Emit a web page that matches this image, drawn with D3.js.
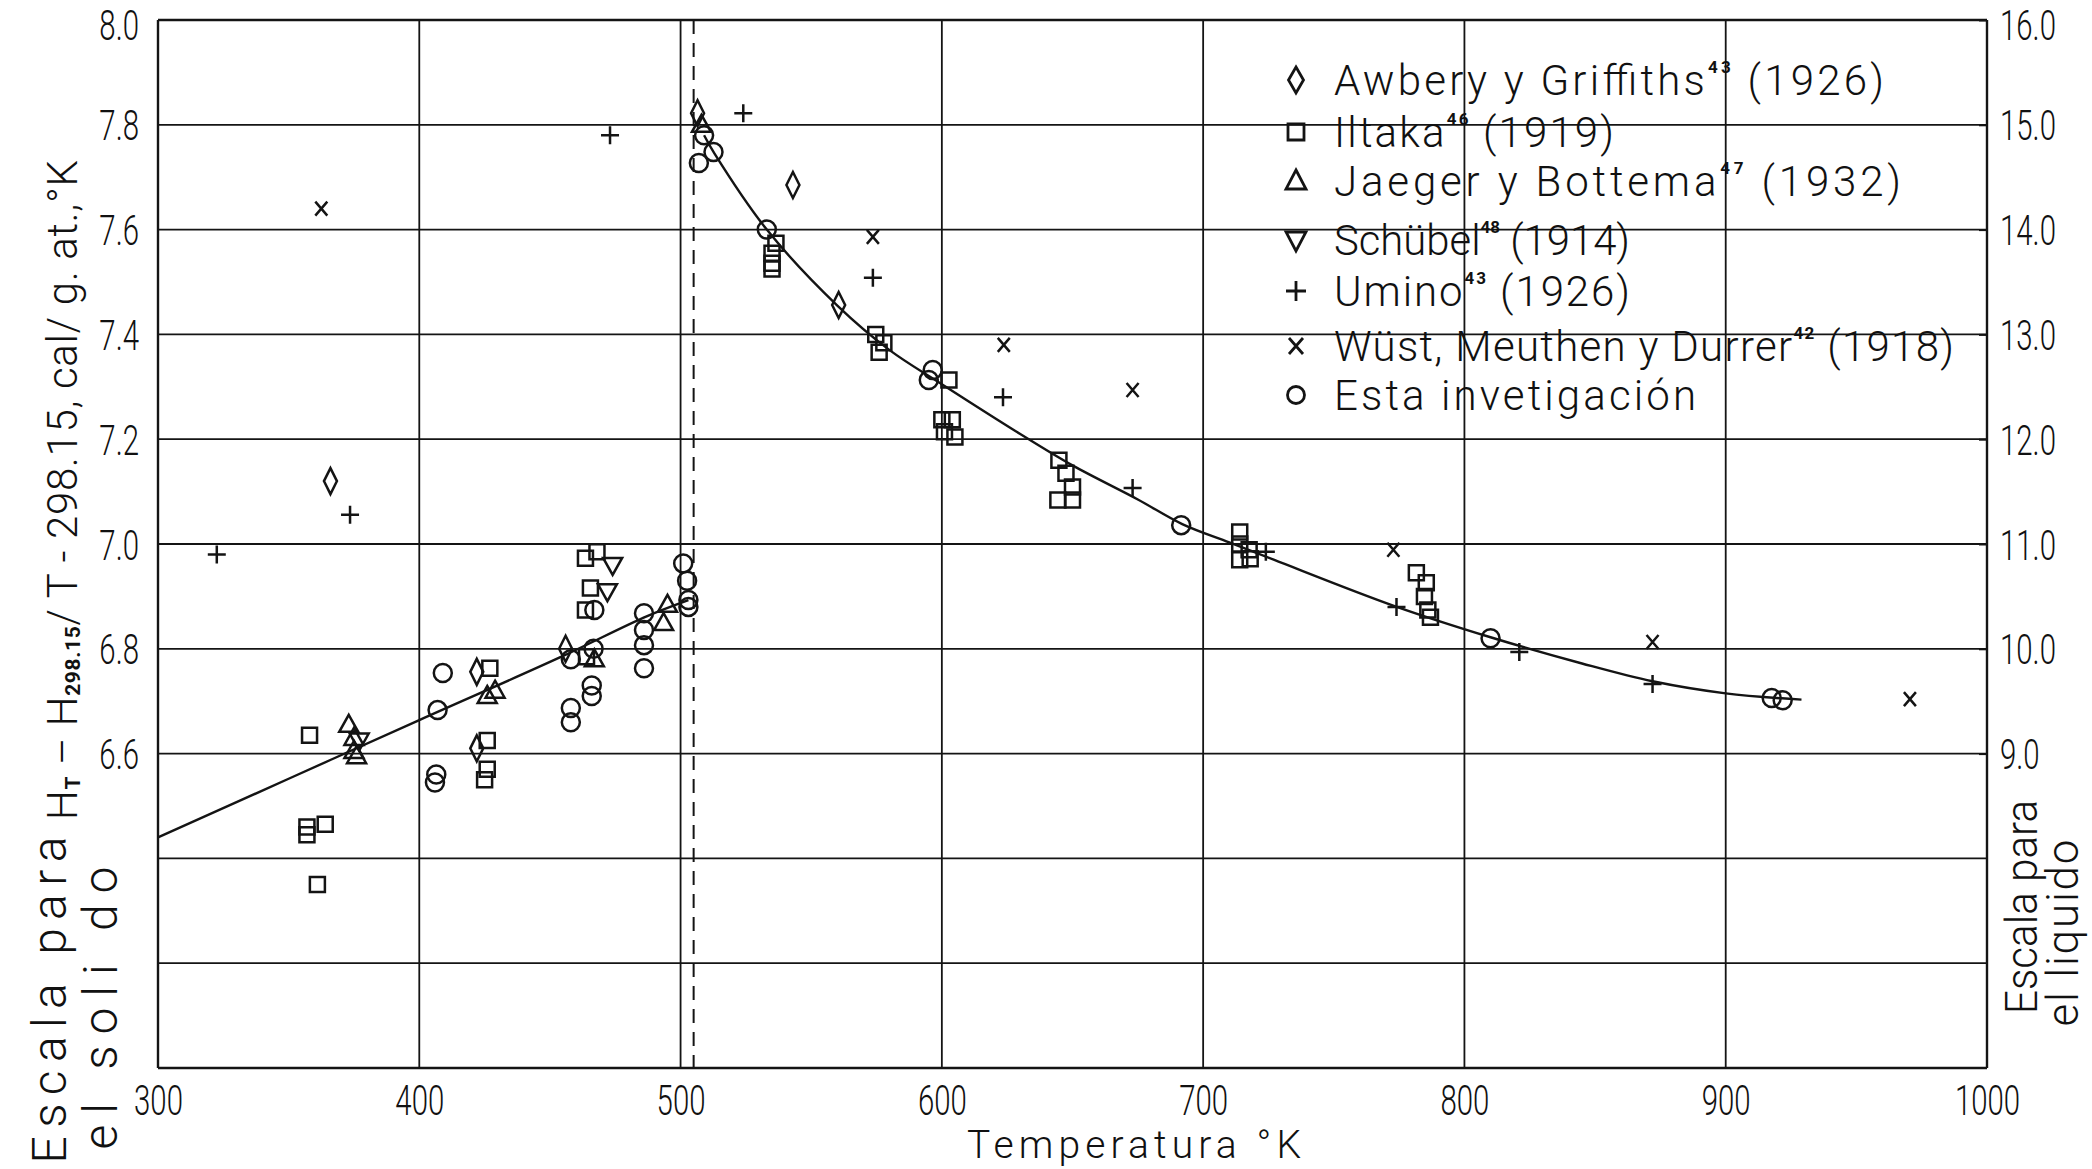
<!DOCTYPE html>
<html><head><meta charset="utf-8">
<script src="https://cdn.jsdelivr.net/npm/d3@7"></script>
<style>
body{margin:0;background:#fff;}
svg{display:block;background:#fff;}
text{font-family:"Roboto","Liberation Sans","DejaVu Sans",sans-serif;fill:#111;}
</style></head><body>
<svg id="c" width="2092" height="1169"></svg>
<script>
// ---------- data ----------
const tempTicks = [300, 400, 500, 600, 700, 800, 900, 1000];
const gridValues = [6.0, 6.2, 6.4, 6.6, 6.8, 7.0, 7.2, 7.4, 7.6, 7.8, 8.0];
const leftTickValues = [8.0, 7.8, 7.6, 7.4, 7.2, 7.0, 6.8, 6.6];
const leftTickLabels = ["8.0", "7.8", "7.6", "7.4", "7.2", "7.0", "6.8", "6.6"];
const rightTickValues = [16, 15, 14, 13, 12, 11, 10, 9];
const rightTickLabels = ["16.0", "15.0", "14.0", "13.0", "12.0", "11.0", "10.0", "9.0"];
const meltingT = 505;

const awberyT = [366, 422, 422, 456, 506.5, 543, 560.5];
const awberyV = [7.12, 6.756, 6.61, 6.80, 7.822, 7.685, 7.456];

const iltakaT = [358, 357, 364, 357, 361, 427, 426, 426, 425, 463.6, 468, 465.5, 463.6, 464,
  536.5, 535, 535, 535, 574.7, 577.8, 576, 602.7, 600, 604, 601, 605,
  644.8, 647.5, 650, 644.4, 650, 714, 714, 717.6, 714, 718, 781.6, 785.4, 784.7, 786, 787];
const iltakaV = [6.635, 6.46, 6.465, 6.445, 6.35, 6.763, 6.625, 6.57, 6.55, 6.973, 6.985, 6.916, 6.874, 6.785,
  7.574, 7.555, 7.536, 7.525, 7.40, 7.384, 7.366, 7.313, 7.237, 7.237, 7.214, 7.204,
  7.16, 7.135, 7.109, 7.084, 7.084, 7.023, 7.00, 6.989, 6.97, 6.972, 6.945, 6.926, 6.90, 6.874, 6.86];

const jaegerT = [373, 375, 375, 376, 426, 429, 467, 495, 493.5, 508];
const jaegerV = [6.655, 6.63, 6.605, 6.595, 6.71, 6.72, 6.78, 6.884, 6.849, 7.80];

const schubelT = [474, 472, 377];
const schubelV = [6.96, 6.91, 6.625];

const uminoT = [322.5, 373.5, 473, 524, 573.6, 623.4, 673, 724, 774, 821, 872];
const uminoV = [6.98, 7.056, 7.78, 7.822, 7.508, 7.28, 7.107, 6.985, 6.88, 6.794, 6.733];

const wustT = [362.5, 573.6, 623.7, 673, 772.8, 872, 970.5];
const wustV = [7.64, 7.586, 7.38, 7.294, 6.989, 6.813, 6.704];

const estaT = [409, 407, 406.5, 406, 466.7, 458, 467, 466, 466, 458, 458, 486, 486, 486, 486,
  501, 502.5, 503, 503, 509, 512.6, 507, 533, 596.5, 595, 691.6, 810, 917.6, 921.8];
const estaV = [6.754, 6.683, 6.56, 6.545, 6.80, 6.78, 6.874, 6.73, 6.71, 6.687, 6.66, 6.868, 6.836, 6.807, 6.763,
  6.963, 6.93, 6.893, 6.88, 7.78, 7.748, 7.727, 7.60, 7.332, 7.313, 7.036, 6.82, 6.706, 6.702];

const solidCurveT = [300, 350, 400, 454, 487, 503];
const solidCurveV = [6.44, 6.552, 6.664, 6.784, 6.862, 6.893];
const liquidCurveT = [509, 513, 533, 560, 580, 600, 630, 650, 675, 692, 710, 727, 773, 810, 845, 872, 900, 929];
const liquidCurveV = [7.78, 7.745, 7.60, 7.455, 7.37, 7.305, 7.21, 7.15, 7.085, 7.038, 7.003, 6.97, 6.882, 6.822, 6.772, 6.738, 6.715, 6.703];

const seriesNames = ["Awbery y Griffiths", "Iltaka", "Jaeger y Bottema", "Schübel", "Umino", "Wüst, Meuthen y Durrer", "Esta invetigación"];
const seriesRefs = ["43", "46", "47", "48", "43", "42", ""];
const seriesYears = ["(1926)", "(1919)", "(1932)", "(1914)", "(1926)", "(1918)", ""];
const seriesShapes = ["diamond", "square", "triUp", "triDown", "plus", "cross", "circle"];

// ---------- scales ----------
const svg = d3.select("#c");
const x = d3.scaleLinear().domain([300, 1000]).range([158, 1987]);
const y = d3.scaleLinear().domain([6.0, 8.0]).range([1068, 20]);
const yR = d3.scaleLinear().domain([6, 16]).range([1068, 20]);
const INK = "#141414";

const shapePath = {
  diamond: "M0,-13L6.5,0L0,13L-6.5,0Z",
  square: "M-7.5,-7.5H7.5V7.5H-7.5Z",
  triUp: "M0,-10L9.5,7L-9.5,7Z",
  triDown: "M-9.5,-7L9.5,-7L0,10Z",
  plus: "M-9,0H9M0,-9V9",
  cross: "M-6,-7L6,7M6,-7L-6,7",
  circle: d3.arc()({innerRadius: 0, outerRadius: 9, startAngle: 0, endAngle: 2 * Math.PI})
};
const legendShapePath = {
  diamond: "M0,-13L7.5,0L0,13L-7.5,0Z",
  square: "M-8,-8H8V8H-8Z",
  triUp: "M0,-11L10,8L-10,8Z",
  triDown: "M-10,-8L10,-8L0,11Z",
  plus: "M-10,0H10M0,-10V10",
  cross: "M-7,-8L7,8M7,-8L-7,8",
  circle: d3.arc()({innerRadius: 0, outerRadius: 8.5, startAngle: 0, endAngle: 2 * Math.PI})
};

// ---------- grid ----------
const grid = svg.append("g");
grid.selectAll("line.h").data(gridValues).join("line")
  .attr("x1", x(300)).attr("x2", x(1000))
  .attr("y1", d => y(d)).attr("y2", d => y(d))
  .attr("stroke", INK).attr("stroke-width", d => (d === 6.0 || d === 8.0) ? 2.4 : 1.8);
grid.selectAll("line.v").data(tempTicks).join("line")
  .attr("x1", d => x(d)).attr("x2", d => x(d))
  .attr("y1", y(8.0)).attr("y2", y(6.0))
  .attr("stroke", INK).attr("stroke-width", d => (d === 300 || d === 1000) ? 2.4 : 1.8);
// melting point dashed line
grid.append("line")
  .attr("x1", x(meltingT)).attr("x2", x(meltingT))
  .attr("y1", y(8.0)).attr("y2", y(6.0))
  .attr("stroke", INK).attr("stroke-width", 2).attr("stroke-dasharray", "14,9");

// ---------- curves ----------
const line = d3.line().x(d => x(d[0])).y(d => y(d[1])).curve(d3.curveCatmullRom.alpha(0.5));
svg.append("path").datum(d3.zip(solidCurveT, solidCurveV)).attr("d", line)
  .attr("fill", "none").attr("stroke", INK).attr("stroke-width", 2.4);
svg.append("path").datum(d3.zip(liquidCurveT, liquidCurveV)).attr("d", line)
  .attr("fill", "none").attr("stroke", INK).attr("stroke-width", 2.4);

// ---------- markers ----------
const seriesData = [
  [awberyT, awberyV], [iltakaT, iltakaV], [jaegerT, jaegerV], [schubelT, schubelV],
  [uminoT, uminoV], [wustT, wustV], [estaT, estaV]
];
seriesData.forEach((s, i) => {
  svg.append("g").selectAll("path").data(d3.zip(s[0], s[1])).join("path")
    .attr("transform", d => `translate(${x(d[0])},${y(d[1])})`)
    .attr("d", shapePath[seriesShapes[i]])
    .attr("fill", "none").attr("stroke", INK)
    .attr("stroke-width", 2.5);
});

// ---------- axes ----------
const numFont = 42, numScale = 0.7;
const axB = svg.append("g").attr("transform", `translate(0,${y(6.0)})`)
  .call(d3.axisBottom(x).tickValues(tempTicks).tickSize(0).tickFormat(d3.format("d")));
axB.select(".domain").remove();
axB.selectAll("text").attr("y", 0).attr("dy", 0)
  .attr("transform", "translate(0,47) scale(" + numScale + ",1)")
  .attr("font-size", numFont).attr("fill", INK).attr("font-weight", 300);

const axL = svg.append("g").attr("transform", `translate(${x(300)},0)`)
  .call(d3.axisLeft(y).tickValues(leftTickValues).tickSize(0)
    .tickFormat((d, i) => leftTickLabels[i]));
axL.select(".domain").remove();
axL.selectAll("text").attr("x", 0).attr("dy", 0).attr("text-anchor", "end")
  .attr("transform", (d, i) => "translate(-19," + (i === 0 ? 19 : 15) + ") scale(" + numScale + ",1)")
  .attr("font-size", numFont).attr("fill", INK).attr("font-weight", 300);

const axR = svg.append("g").attr("transform", `translate(${x(1000)},0)`)
  .call(d3.axisRight(yR).tickValues(rightTickValues).tickSizeInner(-8).tickSizeOuter(0)
    .tickFormat((d, i) => rightTickLabels[i]));
axR.select(".domain").remove();
axR.selectAll("line").attr("stroke", INK).attr("stroke-width", 2);
axR.selectAll("text").attr("x", 0).attr("dy", 0).attr("text-anchor", "start")
  .attr("transform", (d, i) => "translate(13," + (i === 0 ? 19 : 15) + ") scale(" + numScale + ",1)")
  .attr("font-size", numFont).attr("fill", INK).attr("font-weight", 300);

// ---------- helper: fit a text element to a given length ----------
function fit(t, len) {
  const n = t.node();
  const w = n.getComputedTextLength();
  t.attr("textLength", len).attr("lengthAdjust", w > len ? "spacingAndGlyphs" : "spacing");
}

// ---------- axis titles ----------
const xt = svg.append("text").attr("x", 1134).attr("y", 1158).attr("text-anchor", "middle")
  .attr("font-size", 39).attr("font-weight", 300).text("Temperatura °K");
fit(xt, 334);

function vtext(cx, cy, len, size, parts) {
  const t = svg.append("text").attr("transform", `translate(${cx},${cy}) rotate(-90)`)
    .attr("text-anchor", "middle").attr("dominant-baseline", "middle")
    .attr("font-size", size).attr("font-weight", 300);
  parts.forEach(p => {
    const s = t.append("tspan").text(p.t);
    if (p.sub) s.attr("font-size", size * 0.5).attr("font-weight", 700).attr("dy", p.dy);
    else if (p.dy) s.attr("dy", p.dy);
  });
  fit(t, len);
  return t;
}
vtext(53, 1000, 327, 48, [{t: "Escala para"}]);
vtext(104, 1008, 283, 48, [{t: "el  soli do"}]);
vtext(66, 490, 660, 42, [
  {t: "H"}, {t: "T", sub: true, dy: 8}, {t: " – H", dy: -8}, {t: "298.15", sub: true, dy: 8},
  {t: "/ T - 298.15, cal/ g. at.,°K", dy: -8}
]);
vtext(2025, 907, 214, 44, [{t: "Escala para"}]);
vtext(2066, 933, 187, 44, [{t: "el liquido"}]);

// ---------- legend ----------
const legendRowY = [80, 132, 181, 240, 291, 346, 395];
const legendLen = [550, 280, 567, 296, 296, 620, 362];
const lg = svg.append("g");
seriesNames.forEach((name, i) => {
  const yy = legendRowY[i];
  lg.append("path").attr("transform", `translate(1296,${yy})`)
    .attr("d", legendShapePath[seriesShapes[i]])
    .attr("fill", "none").attr("stroke", INK).attr("stroke-width", 2.8);
  const t = lg.append("text").attr("x", 1334).attr("y", yy + 15)
    .attr("font-size", 42).attr("font-weight", 300);
  t.append("tspan").text(name);
  if (seriesRefs[i]) {
    t.append("tspan").attr("font-size", 17).attr("font-weight", 700).attr("dy", -22).text(seriesRefs[i]);
    t.append("tspan").attr("dy", 22).text(" " + seriesYears[i]);
  }
  fit(t, legendLen[i]);
});
</script>
</body></html>
